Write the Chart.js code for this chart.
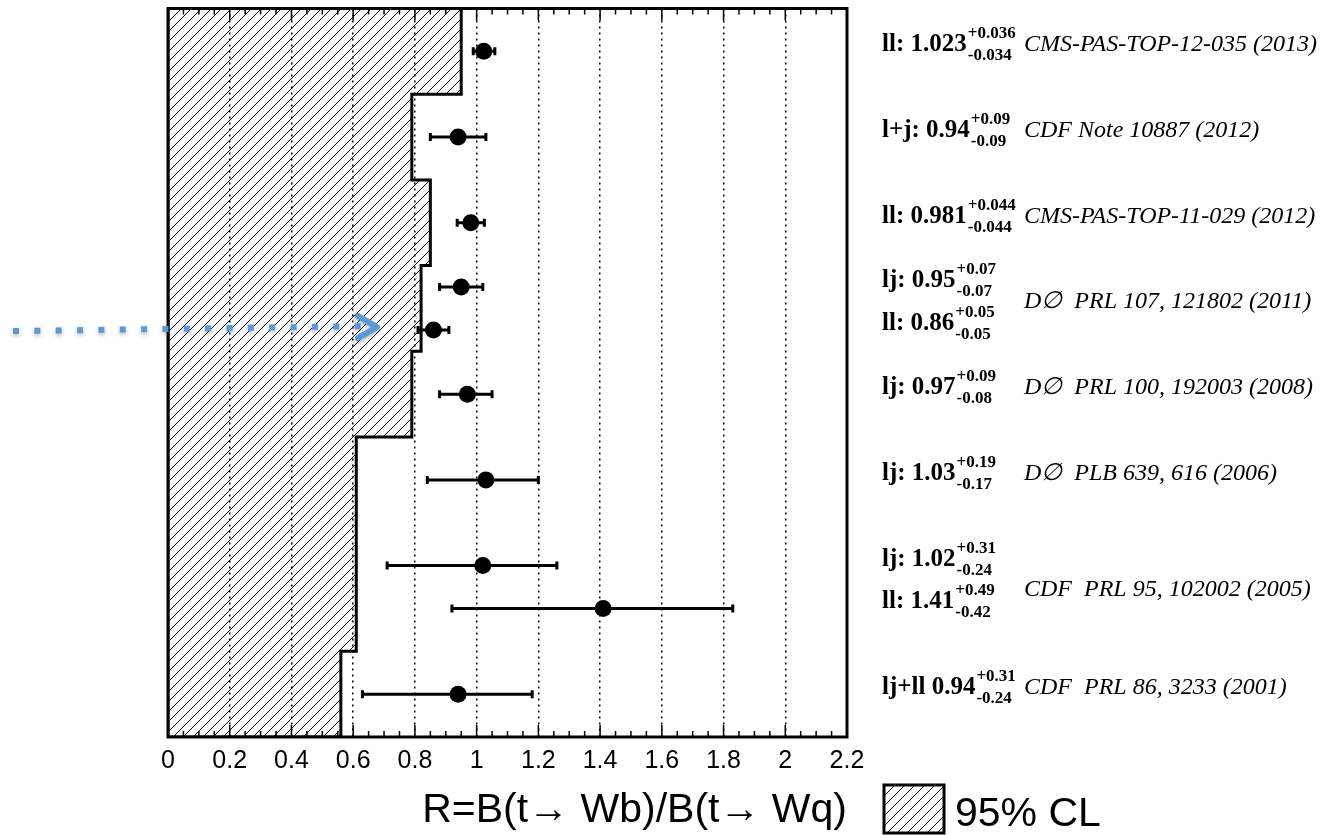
<!DOCTYPE html>
<html>
<head>
<meta charset="utf-8">
<script src="https://cdn.jsdelivr.net/npm/chart.js@4.4.0/dist/chart.umd.min.js"></script>
<style>
  html, body { margin: 0; padding: 0; background: #fff; }
  canvas { display: block; }
</style>
</head>
<body>
<canvas id="rChart" width="1332" height="835"></canvas>
<script>
// row positions on the hidden vertical axis (0 = top of frame)
const rowPos = [0.5, 1.5, 2.5, 3.25, 3.75, 4.5, 5.5, 6.5, 7.0, 8.0];
const rValues = [1.023, 0.94, 0.981, 0.95, 0.86, 0.97, 1.03, 1.02, 1.41, 0.94];
// error bar extent as drawn (left / right of the point)
const errLeft = [0.034, 0.09, 0.044, 0.07, 0.05, 0.09, 0.19, 0.31, 0.49, 0.31];
const errRight = [0.036, 0.09, 0.044, 0.07, 0.05, 0.08, 0.17, 0.24, 0.42, 0.24];

const labelMain = ['ll: 1.023', 'l+j: 0.94', 'll: 0.981', 'lj: 0.95', 'll: 0.86',
  'lj: 0.97', 'lj: 1.03', 'lj: 1.02', 'll: 1.41', 'lj+ll 0.94'];
const labelSup = ['+0.036', '+0.09', '+0.044', '+0.07', '+0.05', '+0.09', '+0.19', '+0.31', '+0.49', '+0.31'];
const labelSub = ['-0.034', '-0.09', '-0.044', '-0.07', '-0.05', '-0.08', '-0.17', '-0.24', '-0.42', '-0.24'];

const refText = ['CMS-PAS-TOP-12-035 (2013)', 'CDF Note 10887 (2012)', 'CMS-PAS-TOP-11-029 (2012)',
  'D\u2205  PRL 107, 121802 (2011)', 'D\u2205  PRL 100, 192003 (2008)', 'D\u2205  PLB 639, 616 (2006)',
  'CDF  PRL 95, 102002 (2005)', 'CDF  PRL 86, 3233 (2001)'];
const refPos = [0.5, 1.5, 2.5, 3.5, 4.5, 5.5, 6.85, 8.0];
const refRow = [0, 1, 2, 3, 5, 6, 8, 9];

// 95% CL lower limit per band
const clEdges = [0, 1, 2, 3, 4, 5, 7.5, 8.5];
const clLimit = [0.95, 0.79, 0.85, 0.82, 0.79, 0.61, 0.56];

const xTickLabels = ['0', '0.2', '0.4', '0.6', '0.8', '1', '1.2', '1.4', '1.6', '1.8', '2', '2.2'];

const axisTitle = 'R=B(t\u2192 Wb)/B(t\u2192 Wq)';
const legendText = '95% CL';

function makeHatch() {
  const c = document.createElement('canvas');
  c.width = 10;
  c.height = 10;
  const g = c.getContext('2d');
  g.strokeStyle = '#000';
  g.lineWidth = 1;
  g.beginPath();
  g.moveTo(-1, 11); g.lineTo(11, -1);
  g.moveTo(-6, 6); g.lineTo(6, -6);
  g.moveTo(4, 16); g.lineTo(16, 4);
  g.stroke();
  return g.createPattern(c, 'repeat');
}

const ctx = document.getElementById('rChart').getContext('2d');
const hatch = makeHatch();

const clShape = [{ x: 0, y: clEdges[0] }];
clLimit.forEach((v, i) => {
  clShape.push({ x: v, y: clEdges[i] });
  clShape.push({ x: v, y: clEdges[i + 1] });
});
clShape.push({ x: 0, y: clEdges[clEdges.length - 1] });
clShape.push({ x: 0, y: clEdges[0] });

const errorBars = {
  id: 'errorBars',
  beforeDatasetDraw(chart, args) {
    if (args.index !== 1) return;
    const xs = chart.scales.x, ys = chart.scales.y, c = chart.ctx;
    c.save();
    c.strokeStyle = '#000';
    c.lineWidth = 3;
    rValues.forEach((v, i) => {
      const y = ys.getPixelForValue(rowPos[i]);
      const x1 = xs.getPixelForValue(v - errLeft[i]);
      const x2 = xs.getPixelForValue(v + errRight[i]);
      c.beginPath();
      c.moveTo(x1, y); c.lineTo(x2, y);
      c.moveTo(x1, y - 4); c.lineTo(x1, y + 4);
      c.moveTo(x2, y - 4); c.lineTo(x2, y + 4);
      c.stroke();
    });
    c.restore();
  }
};

const decorations = {
  id: 'decorations',
  afterDraw(chart) {
    const xs = chart.scales.x, ys = chart.scales.y, c = chart.ctx;
    const a = chart.chartArea;
    c.save();

    // inward ticks, top and bottom
    c.strokeStyle = '#000';
    c.lineWidth = 1.5;
    c.beginPath();
    for (let i = 0; i <= 44; i++) {
      const x = xs.getPixelForValue(i * 0.05);
      const len = i % 4 === 0 ? 12 : 6;
      c.moveTo(x, a.bottom); c.lineTo(x, a.bottom - len);
      c.moveTo(x, a.top); c.lineTo(x, a.top + len);
    }
    c.stroke();

    // frame
    c.lineWidth = 3;
    c.strokeRect(a.left, a.top, a.right - a.left, a.bottom - a.top);

    // result labels on the right
    c.fillStyle = '#000';
    c.textBaseline = 'alphabetic';
    const x0 = 882;
    const supEnd = [];
    labelMain.forEach((t, i) => {
      const y = ys.getPixelForValue(rowPos[i]);
      c.font = 'bold 25px "Liberation Serif"';
      c.fillText(t, x0, y);
      const xs2 = x0 + c.measureText(t).width + 1;
      c.font = 'bold 17px "Liberation Serif"';
      c.fillText(labelSup[i], xs2, y - 13);
      c.fillText(labelSub[i], xs2, y + 9);
      supEnd.push(xs2 + Math.max(c.measureText(labelSup[i]).width, c.measureText(labelSub[i]).width));
    });
    c.font = 'italic 24px "Liberation Serif"';
    refText.forEach((t, i) => {
      const y = ys.getPixelForValue(refPos[i]);
      const x = Math.max(1024, supEnd[refRow[i]] + 6);
      c.fillText(t, x, y);
    });

    // legend box
    c.fillStyle = hatch;
    c.fillRect(884, 785, 60, 48);
    c.lineWidth = 3;
    c.strokeRect(884, 785, 60, 48);
    c.fillStyle = '#000';
    c.font = '41px "Liberation Sans"';
    c.fillText(legendText, 955, 826);

    // blue dotted arrow annotation
    c.fillStyle = '#5b9bd5';
    c.strokeStyle = '#5b9bd5';
    c.shadowColor = 'rgba(0,0,0,0.3)';
    c.shadowBlur = 4;
    c.shadowOffsetY = 2;
    for (let i = 0; i < 17; i++) {
      const x = 16 + i * 21.35;
      const y = 331 - i * 0.3;
      c.fillRect(x - 3, y - 3, 6, 6);
    }
    c.lineWidth = 6;
    c.lineCap = 'round';
    c.lineJoin = 'round';
    c.beginPath();
    c.moveTo(358, 316); c.lineTo(377, 327); c.lineTo(358, 338);
    c.stroke();
    c.restore();
  }
};

new Chart(ctx, {
  type: 'scatter',
  data: {
    datasets: [
      {
        label: '95% CL',
        data: clShape,
        showLine: true,
        fill: 'shape',
        backgroundColor: hatch,
        borderColor: '#000',
        borderWidth: 3,
        borderJoinStyle: 'miter',
        pointRadius: 0,
        order: 1,
      },
      {
        label: 'R',
        data: rValues.map((v, i) => ({ x: v, y: rowPos[i] })),
        backgroundColor: '#000',
        borderWidth: 0,
        pointRadius: 8.5,
        showLine: false,
        order: 0,
      },
    ],
  },
  options: {
    responsive: false,
    animation: false,
    devicePixelRatio: 1,
    layout: { padding: { left: 168, right: 485, top: 7, bottom: 0 } },
    plugins: {
      legend: { display: false },
      tooltip: { enabled: false },
    },
    scales: {
      x: {
        type: 'linear',
        min: 0,
        max: 2.2,
        afterFit: (scale) => { scale.height = 98; },
        ticks: {
          stepSize: 0.2,
          autoSkip: false,
          maxRotation: 0,
          padding: 9,
          color: '#000',
          font: { family: 'Liberation Sans', size: 25 },
          callback: (v, i) => xTickLabels[i],
        },
        grid: {
          drawTicks: false,
          lineWidth: 1.5,
          color: (c) => (c.tick && (c.tick.value < 0.01 || c.tick.value > 2.19) ? 'rgba(0,0,0,0)' : '#000'),
        },
        border: { display: false, dash: [2, 4] },
        title: {
          display: true,
          text: axisTitle,
          align: 'end',
          color: '#000',
          font: { family: 'Liberation Sans', size: 41 },
          padding: { top: 0, bottom: 0 },
        },
      },
      y: {
        type: 'linear',
        display: false,
        reverse: true,
        min: 0,
        max: 8.5,
      },
    },
  },
  plugins: [errorBars, decorations],
});
</script>
</body>
</html>
